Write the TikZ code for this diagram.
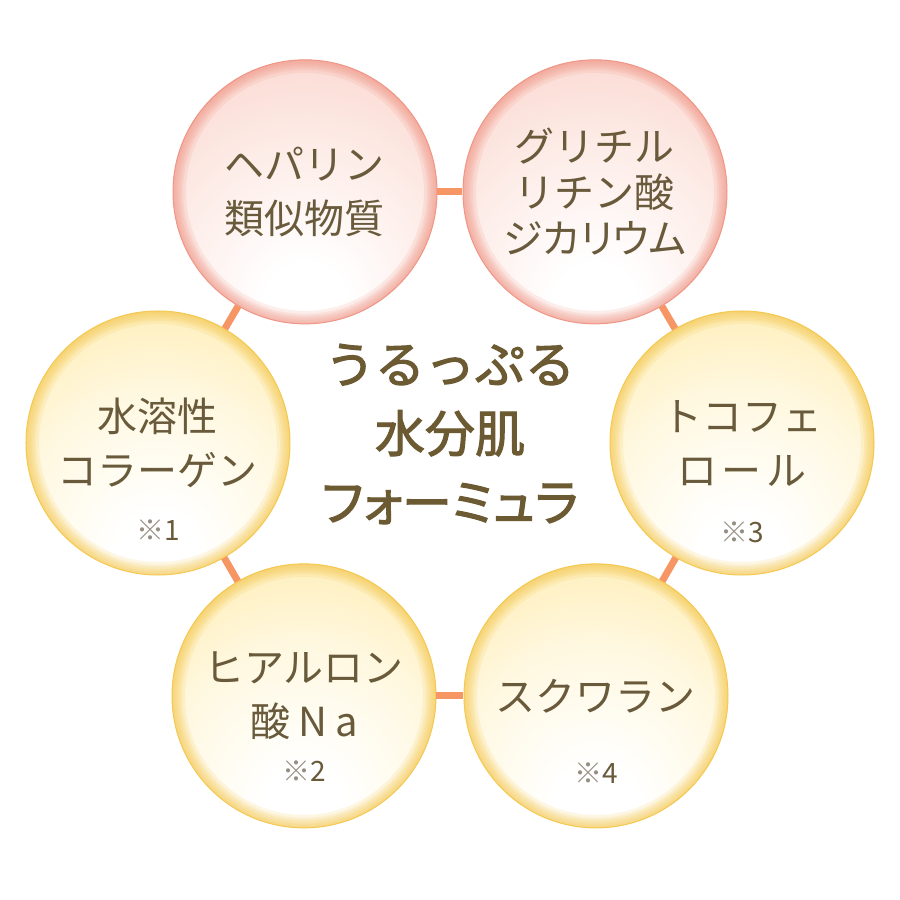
\documentclass[tikz,border=0pt]{standalone}
\usepackage{fontspec}
\setmainfont{Noto Sans CJK JP}
\newfontfamily\titlefont{Noto Sans CJK JP}[FakeBold=2.2]
\usetikzlibrary{positioning}
\definecolor{inkbrown}{RGB}{104,90,58}
\definecolor{titlebrown}{RGB}{108,90,50}
\definecolor{linkorange}{RGB}{245,150,100}
\definecolor{markgray}{RGB}{150,142,130}
\definecolor{pinkhi}{RGB}{253,235,230}
\definecolor{pinklight}{RGB}{250,211,203}
\definecolor{pinkmid}{RGB}{247,188,177}
\definecolor{pinkrim}{RGB}{240,150,134}
\definecolor{yellowhi}{RGB}{255,248,224}
\definecolor{yellowlight}{RGB}{254,235,172}
\definecolor{yellowmid}{RGB}{252,222,128}
\definecolor{yellowrim}{RGB}{245,200,80}
\pgfdeclareradialshading{pinkshade}{\pgfpoint{0bp}{-24bp}}{color(0bp)=(white); color(8bp)=(white); color(26bp)=(pinkhi); color(44bp)=(pinklight); color(60bp)=(pinkmid); color(80bp)=(pinkmid)}
\pgfdeclareradialshading{yellowshade}{\pgfpoint{0bp}{-24bp}}{color(0bp)=(white); color(8bp)=(white); color(26bp)=(yellowhi); color(44bp)=(yellowlight); color(60bp)=(yellowmid); color(80bp)=(yellowmid)}

\begin{document}
\begin{tikzpicture}[
		x=1pt, y=1pt,
		ball/.style={circle, minimum size=264pt, inner sep=0pt, line width=1pt,
			text=inkbrown, align=center, font=\fontsize{40pt}{54pt}\selectfont},
		glow/.style={path picture={
			\foreach \w in {4pt,8pt,12pt,16pt,20pt,26pt}
				\draw[#1, opacity=0.16, line width=\w] (path picture bounding box.center) circle (132pt);}},
		pinkball/.style={ball, draw=pinkrim, shading=pinkshade, glow=pinkrim},
		yellowball/.style={ball, draw=yellowrim, shading=yellowshade, glow=yellowrim},
		note/.style={text=inkbrown, font=\fontsize{28pt}{30pt}\selectfont},
		title/.style={text=titlebrown, align=center, font=\fontsize{50pt}{69pt}\titlefont},
		link/.style={draw=linkorange, line width=7pt}
	]
		\path[fill=white, use as bounding box] (-450,-457) rectangle (450,443);
		\node[pinkball] (heparin) at (120:290) {ヘパリン\\類似物質};
		\node[pinkball, font=\fontsize{40pt}{46pt}\selectfont] (glycyr) at (60:290)
			{グリチル\\リチン酸\\{\addfontfeature{RawFeature=+palt}ジカリウム}};
		\node[yellowball] (collagen) at (180:292) {水溶性\\コラーゲン};
		\node[yellowball] (tocoph) at (0:292) {トコフェ\\\makebox[130pt][s]{ロ\hfill ー\hfill ル}};
		\node[yellowball] (hyal) at (240:292) {ヒアルロン\\酸\hspace{8pt}N\hspace{8pt}a};
		\node[yellowball] (squal) at (300:292) {スクワラン};
		\node[note] (n1) at ([yshift=-87pt]collagen.center) {\textcolor{markgray}{※}1};
		\node[note] (n3) at ([yshift=-89pt]tocoph.center) {\textcolor{markgray}{※}3};
		\node[note] (n2) at ([yshift=-75pt]hyal.center) {\textcolor{markgray}{※}2};
		\node[note] (n4) at ([yshift=-77pt]squal.center) {\textcolor{markgray}{※}4};
		\node[title] (formula) at (0,9) {うるっぷる\\水分肌\\{\addfontfeature{RawFeature=+palt}フォーミュラ}};
		\draw[link] (heparin) -- (glycyr);
		\draw[link] (glycyr) -- (tocoph);
		\draw[link] (tocoph) -- (squal);
		\draw[link] (squal) -- (hyal);
		\draw[link] (hyal) -- (collagen);
		\draw[link] (collagen) -- (heparin);
	\end{tikzpicture}
\end{document}
